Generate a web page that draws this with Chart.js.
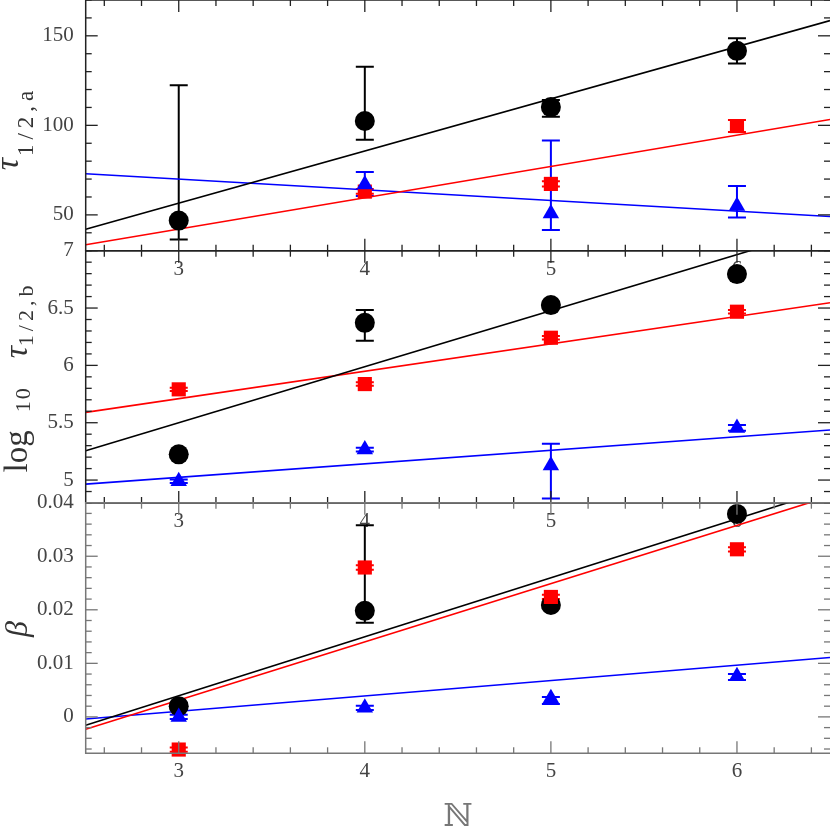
<!DOCTYPE html>
<html>
<head>
<meta charset="utf-8">
<script src="https://cdn.jsdelivr.net/npm/chart.js@4.4.1/dist/chart.umd.min.js"></script>
<style>
  body { margin: 0; background: #fff; width: 830px; height: 830px; overflow: hidden; position: relative; font-family: "Liberation Serif", serif; }
  canvas { position: absolute; left: 0; }
  .ylab { position: absolute; transform: translate(-50%, -50%) rotate(-90deg); white-space: nowrap; color: #333; font-family: "Liberation Serif", serif; line-height: 1; }
  .ylab span, .ylab i { position: relative; }
  .xlab { position: absolute; left: 458px; top: 815px; transform: translate(-50%, -50%); font-family: "DejaVu Serif", serif; font-size: 32px; color: #777; }
</style>
</head>
<body>
<canvas id="c1" width="830" height="280" style="top:0px"></canvas>
<canvas id="c2" width="830" height="293" style="top:240px"></canvas>
<canvas id="c3" width="830" height="338" style="top:492px"></canvas>

<div class="ylab" style="left:7px; top:128px"><i style="font-size:34px">τ</i><span style="font-size:23px; top:15px; letter-spacing:5px; margin-left:2px">1/2,a</span></div>
<div class="ylab" style="left:16px; top:377px"><span style="font-size:33px">log</span><span style="font-size:22px; top:3px; letter-spacing:2px; margin-left:18px">10</span><i style="font-size:34px; margin-left:28px">τ</i><span style="font-size:22px; top:6px; letter-spacing:4px">1/2,b</span></div>
<div class="ylab" style="left:16px; top:629px"><i style="font-size:32px">β</i></div>
<div class="xlab">ℕ</div>

<script>
const nValues = [3, 4, 5, 6];
const fitN = [2.5, 6.5];

// panel 1: tau_1/2,a
const tauA_black = [46.8, 102.4, 110.2, 141.6];
const tauA_blackLo = [36.2, 92.0, 104.8, 134.6];
const tauA_blackHi = [122.4, 132.7, 114.1, 148.7];
const tauA_red = [null, 63.0, 67.3, 99.6];
const tauA_redLo = [null, 61.8, 65.8, 96.3];
const tauA_redHi = [null, 64.4, 68.8, 103.0];
const tauA_blue = [null, 67.0, 50.8, 54.9];
const tauA_blueLo = [null, 60.6, 41.5, 48.5];
const tauA_blueHi = [null, 74.0, 91.6, 66.2];
const tauA_fitBlack = [42.0, 158.5];
const tauA_fitRed = [33.3, 103.3];
const tauA_fitBlue = [73.0, 49.1];

// panel 2: log10 tau_1/2,b
const logB_black = [5.224, 6.371, 6.526, 6.796];
const logB_blackLo = [5.200, 6.215, 6.510, 6.780];
const logB_blackHi = [5.245, 6.482, 6.545, 6.810];
const logB_red = [5.791, 5.837, 6.241, 6.468];
const logB_redLo = [5.776, 5.822, 6.226, 6.453];
const logB_redHi = [5.806, 5.852, 6.256, 6.483];
const logB_blue = [4.990, 5.266, 5.126, 5.455];
const logB_blueLo = [4.975, 5.250, 4.840, 5.430];
const logB_blueHi = [5.005, 5.282, 5.316, 5.480];
const logB_fitBlack = [5.256, 7.21];
const logB_fitRed = [5.590, 6.546];
const logB_fitBlue = [4.965, 5.436];

// panel 3: beta
const beta_black = [0.0020, 0.0198, 0.0209, 0.0379];
const beta_blackLo = [0.0016, 0.0176, 0.0204, 0.0374];
const beta_blackHi = [0.0024, 0.0358, 0.0214, 0.0384];
const beta_red = [-0.0061, 0.0279, 0.0224, 0.0313];
const beta_redLo = [-0.0065, 0.0275, 0.0220, 0.0309];
const beta_redHi = [-0.0057, 0.0283, 0.0228, 0.0317];
const beta_blue = [0.0000, 0.0017, 0.0035, 0.0076];
const beta_blueLo = [-0.0004, 0.0013, 0.0024, 0.0069];
const beta_blueHi = [0.0004, 0.0021, 0.0037, 0.0080];
const beta_fitBlack = [-0.00155, 0.0425];
const beta_fitRed = [-0.0023, 0.0412];
const beta_fitBlue = [-0.0004, 0.0111];

const BLACK = "#000000", RED = "#ff0000", BLUE = "#0000ff";

const toPoints = (xs, ys) => xs.map((x, i) => ys[i] === null ? null : { x: x, y: ys[i] }).filter(p => p);
const pick = (arr, ys) => arr.filter((v, i) => ys[i] !== null);

// inner tick marks on all four sides + frame (right edge sits on the page edge)
const framePlugin = {
    id: "frame",
    afterDraw(chart, args, opts) {
        const { ctx, chartArea: a, scales: { x, y } } = chart;
        ctx.save();
        ctx.strokeStyle = opts.color;
        ctx.lineWidth = 1.3;
        const seg = (x1, y1, x2, y2) => { ctx.beginPath(); ctx.moveTo(x1, y1); ctx.lineTo(x2, y2); ctx.stroke(); };
        const isMajor = (v, step) => Math.abs(v / step - Math.round(v / step)) < 1e-6;
        for (let k = Math.ceil(x.min / 0.2 - 1e-9); k * 0.2 <= x.max + 1e-9; k++) {
            const v = k * 0.2, px = x.getPixelForValue(v);
            const len = isMajor(v, 1) ? 12 : 6;
            seg(px, a.bottom, px, a.bottom - len);
            seg(px, a.top, px, a.top + len);
        }
        for (let k = Math.ceil(y.min / opts.yMinor - 1e-9); k * opts.yMinor <= y.max + 1e-9; k++) {
            const v = k * opts.yMinor, py = y.getPixelForValue(v);
            const len = isMajor(v, opts.yMajor) ? 12 : 6;
            seg(a.left, py, a.left + len, py);
            seg(a.right, py, a.right - len, py);
        }
        ctx.lineWidth = 1.5;
        ctx.beginPath();
        ctx.moveTo(a.right, a.top); ctx.lineTo(a.left, a.top);
        ctx.lineTo(a.left, a.bottom); ctx.lineTo(a.right, a.bottom);
        ctx.stroke();
        ctx.restore();
    }
};

const errorBarPlugin = {
    id: "errorBars",
    beforeDatasetsDraw(chart) {
        const { ctx, chartArea: a, scales: { x, y } } = chart;
        ctx.save();
        ctx.beginPath();
        ctx.rect(a.left, a.top, a.right - a.left, a.bottom - a.top);
        ctx.clip();
        chart.data.datasets.forEach(ds => {
            if (!ds.errLo) return;
            ctx.strokeStyle = ds.backgroundColor;
            ctx.lineWidth = 2;
            ds.data.forEach((p, j) => {
                const px = x.getPixelForValue(p.x);
                const lo = y.getPixelForValue(ds.errLo[j]);
                const hi = y.getPixelForValue(ds.errHi[j]);
                ctx.beginPath();
                ctx.moveTo(px, lo); ctx.lineTo(px, hi);
                ctx.moveTo(px - 9, lo); ctx.lineTo(px + 9, lo);
                ctx.moveTo(px - 9, hi); ctx.lineTo(px + 9, hi);
                ctx.stroke();
            });
        });
        ctx.restore();
    }
};

function pointSet(ys, lo, hi, color, style, radius, order) {
    return {
        type: "scatter",
        data: toPoints(nValues, ys),
        errLo: pick(lo, ys),
        errHi: pick(hi, ys),
        backgroundColor: color,
        borderColor: color,
        borderWidth: 0,
        pointStyle: style,
        pointRadius: radius,
        pointHoverRadius: radius,
        clip: false,
        order: order
    };
}

function fitSet(ys, color) {
    return {
        type: "line",
        data: toPoints(fitN, ys),
        borderColor: color,
        borderWidth: 1.6,
        pointRadius: 0,
        fill: false,
        order: 10
    };
}

const noPad = s => { s.paddingLeft = 0; s.paddingRight = 0; s.paddingTop = 0; s.paddingBottom = 0; };

function makePanel(id, p) {
    return new Chart(document.getElementById(id), {
        type: "scatter",
        data: {
            datasets: [
                fitSet(p.fits[0], BLACK),
                fitSet(p.fits[1], RED),
                fitSet(p.fits[2], BLUE),
                pointSet(p.black[0], p.black[1], p.black[2], BLACK, "circle", 10, 3),
                pointSet(p.red[0], p.red[1], p.red[2], RED, "rect", 10, 2),
                pointSet(p.blue[0], p.blue[1], p.blue[2], BLUE, "triangle", 9.5, 1)
            ]
        },
        options: {
            responsive: false,
            animation: false,
            events: [],
            layout: { autoPadding: false, padding: { top: p.padTop, left: 0, right: 0, bottom: 0 } },
            plugins: {
                legend: { display: false },
                tooltip: { enabled: false },
                frame: { color: p.frameColor, yMinor: p.yMinor, yMajor: p.yMajor }
            },
            scales: {
                x: {
                    type: "linear",
                    min: 2.5,
                    max: 6.5,
                    grid: { display: false, drawTicks: false },
                    border: { display: false },
                    afterBuildTicks: s => { s.ticks = nValues.map(v => ({ value: v })); },
                    afterFit: s => { s.height = p.xHeight; noPad(s); },
                    ticks: { color: "#444", padding: 6, font: { family: "Liberation Serif", size: 21 }, callback: v => String(v) }
                },
                y: {
                    type: "linear",
                    min: p.yMin,
                    max: p.yMax,
                    grid: { display: false, drawTicks: false },
                    border: { display: false },
                    afterBuildTicks: s => { s.ticks = p.yTicks.map(v => ({ value: v })); },
                    afterFit: s => { s.width = 85.7; noPad(s); },
                    ticks: { color: "#444", padding: 12, font: { family: "Liberation Serif", size: 21 }, callback: v => String(v) }
                }
            }
        },
        plugins: [errorBarPlugin, framePlugin]
    });
}

makePanel("c1", {
    padTop: 0, xHeight: 29.3, yMin: 30, yMax: 170, yTicks: [50, 100, 150], yMinor: 10, yMajor: 50, frameColor: "#222",
    fits: [tauA_fitBlack, tauA_fitRed, tauA_fitBlue],
    black: [tauA_black, tauA_blackLo, tauA_blackHi],
    red: [tauA_red, tauA_redLo, tauA_redHi],
    blue: [tauA_blue, tauA_blueLo, tauA_blueHi]
});

makePanel("c2", {
    padTop: 10.7, xHeight: 30, yMin: 4.8, yMax: 7, yTicks: [5, 5.5, 6, 6.5, 7], yMinor: 0.1, yMajor: 0.5, frameColor: "#222",
    fits: [logB_fitBlack, logB_fitRed, logB_fitBlue],
    black: [logB_black, logB_blackLo, logB_blackHi],
    red: [logB_red, logB_redLo, logB_redHi],
    blue: [logB_blue, logB_blueLo, logB_blueHi]
});

makePanel("c3", {
    padTop: 10.7, xHeight: 76.7, yMin: -0.0068, yMax: 0.04, yTicks: [0, 0.01, 0.02, 0.03, 0.04], yMinor: 0.002, yMajor: 0.01, frameColor: "#777",
    fits: [beta_fitBlack, beta_fitRed, beta_fitBlue],
    black: [beta_black, beta_blackLo, beta_blackHi],
    red: [beta_red, beta_redLo, beta_redHi],
    blue: [beta_blue, beta_blueLo, beta_blueHi]
});
</script>
</body>
</html>
